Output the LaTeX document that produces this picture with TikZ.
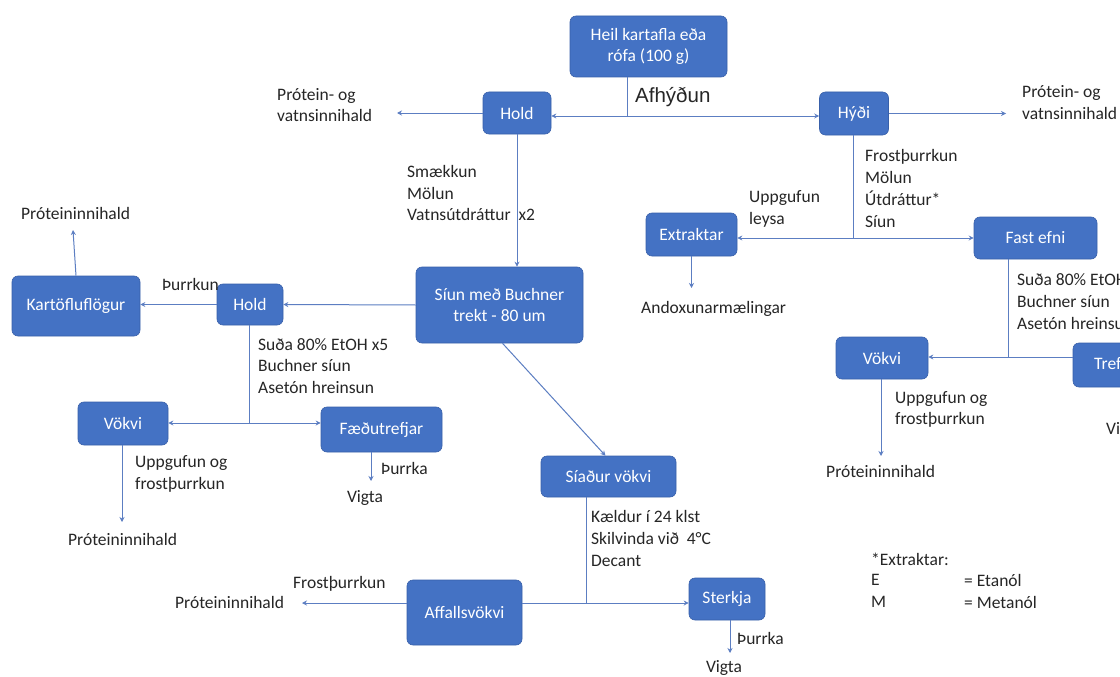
\documentclass[tikz,border=0pt]{standalone}
\usepackage{fontspec}
\setmainfont{Carlito}
\newfontfamily\afont{Liberation Sans}
\usetikzlibrary{arrows.meta}
\definecolor{boxblue}{RGB}{68,114,196}
\definecolor{boxline}{RGB}{56,96,170}
\definecolor{lineblue}{RGB}{92,126,194}
\definecolor{txt}{RGB}{38,38,38}
\begin{document}
\begin{tikzpicture}[x=1pt,y=-1pt,
 box/.style={draw=boxline, line width=0.6pt, fill=boxblue, rounded corners=6pt, text=white, font=\fontsize{17.5}{21.7}\selectfont, align=center, inner sep=0pt},
 lbl/.style={font=\fontsize{17.5}{21.7}\selectfont, text=txt, align=left, inner sep=0pt, anchor=west},
 conn/.style={draw=lineblue, line width=1pt},
 arr/.style={conn, -{Stealth[length=5pt,width=5pt]}}]
\useasboundingbox (0,0) rectangle (1120,677);
\clip (0,0) rectangle (1120,677);
\fill[white] (0,0) rectangle (1120,677);

% boxes
\node[box, minimum width=157pt, minimum height=61pt] (top) at (648.5,46.5) {Heil kartafla eða\\rófa (100 g)};
\node[box, minimum width=68pt, minimum height=42pt] (holdA) at (517,113) {Hold};
\node[box, minimum width=69pt, minimum height=43pt] (hydi) at (854,113.5) {Hýði};
\node[box, minimum width=91pt, minimum height=43pt] (extr) at (691.5,234.5) {Extraktar};
\node[box, minimum width=123pt, minimum height=42pt] (fast) at (1035.5,238) {Fast efni};
\node[box, minimum width=92pt, minimum height=42pt] (vokR) at (882,358) {Vökvi};
\node[box, minimum width=88pt, minimum height=44pt] (tref) at (1117,365) {Trefjar};
\node[box, minimum width=167pt, minimum height=76pt] (sium) at (499.5,305) {Síun með Buchner\\trekt - 80 um};
\node[box, minimum width=66pt, minimum height=41pt] (holdB) at (250,304.5) {Hold};
\node[box, minimum width=128pt, minimum height=60pt] (kart) at (76,306) {Kartöfluflögur};
\node[box, minimum width=90pt, minimum height=43pt] (vokL) at (123,423.5) {Vökvi};
\node[box, minimum width=121pt, minimum height=45pt] (faed) at (381.5,429.5) {Fæðutrefjar};
\node[box, minimum width=135pt, minimum height=41pt] (siad) at (608.5,476.5) {Síaður vökvi};
\node[box, minimum width=76pt, minimum height=42pt] (sterk) at (727,599) {Sterkja};
\node[box, minimum width=115pt, minimum height=65pt] (afall) at (464.5,612.5) {Affallsvökvi};

% labels
\node[lbl, font=\afont\fontsize{20.5}{24}\selectfont] (lafh) at (635,97) {Afhýðun};
\node[lbl] (lpv1) at (277,105) {Prótein- og\\vatnsinnihald};
\node[lbl] (lpv2) at (1022,102.5) {Prótein- og\\vatnsinnihald};
\node[lbl] (lsma) at (407,193) {Smækkun\\Mölun\\Vatnsútdráttur\ \ x2};
\node[lbl] (lfro) at (865,188.5) {Frostþurrkun\\Mölun\\Útdráttur*\\Síun};
\node[lbl] (lupp1) at (749,209) {Uppgufun\\leysa};
\node[lbl] (land) at (641,309) {Andoxunarmælingar};
\node[lbl] (lsuR) at (1017,301.5) {Suða 80\% EtOH x5\\Buchner síun\\Asetón hreinsun};
\node[lbl] (luppR) at (895,409.5) {Uppgufun og\\frostþurrkun};
\node[lbl] (lprR) at (826,471) {Próteininnihald};
\node[lbl] (lvigR) at (1106,430) {Vigta};
\node[lbl] (lprK) at (21,213) {Próteininnihald};
\node[lbl] (lthu) at (162,284) {Þurrkun};
\node[lbl] (lsuL) at (258,366) {Suða 80\% EtOH x5\\Buchner síun\\Asetón hreinsun};
\node[lbl] (luppL) at (135,474) {Uppgufun og\\frostþurrkun};
\node[lbl] (lprL) at (68,539) {Próteininnihald};
\node[lbl] (lthF) at (381,468) {Þurrka};
\node[lbl, anchor=center] (lvigF) at (365,498) {Vigta};
\node[lbl] (lkae) at (591,538.5) {Kældur í 24 klst\\Skilvinda við\ \ 4°C\\Decant};
\node[lbl] (lthS) at (737,638) {Þurrka};
\node[lbl, anchor=center] (lvigS) at (724,668) {Vigta};
\node[lbl] (lprA) at (175,602) {Próteininnihald};
\node[lbl] (lfrA) at (293,584) {Frostþurrkun};
\node[lbl] (lext) at (871,559) {*Extraktar:};
\node[lbl] (lE) at (871,580) {E};
\node[lbl] (lEt) at (964,580) {= Etanól};
\node[lbl] (lM) at (871,602) {M};
\node[lbl] (lMt) at (964,602) {= Metanól};

% connectors
\coordinate (j1) at (627,116);
\draw[conn] (top.south -| j1) -- (j1);
\draw[arr] (j1) -- (j1 -| holdA.east);
\draw[arr] (j1) -- (j1 -| hydi.west);
\coordinate (e1) at (397,113);
\draw[arr] (holdA.west) -- (e1);
\coordinate (e2) at (1006,113.5);
\draw[arr] (hydi.east) -- (e2);
\draw[arr] (holdA.south) -- (holdA.south |- sium.north);
\coordinate (j2) at (853,238);
\draw[conn] (hydi.south -| j2) -- (j2);
\draw[arr] (j2) -- (j2 -| extr.east);
\draw[arr] (j2) -- (j2 -| fast.west);
\coordinate (e3) at (691.5,288);
\draw[arr] (extr.south) -- (e3);
\coordinate (j3) at (1008,357);
\draw[conn] (fast.south -| j3) -- (j3);
\draw[conn] (j3 -| tref.west) -- (j3);
\draw[arr] (j3) -- (j3 -| vokR.east);
\coordinate (e4) at (881,456);
\draw[arr] (vokR.south -| e4) -- (e4);
\draw[arr] (sium.west) -- (holdB.east);
\draw[arr] (holdB.west) -- (holdB.west -| kart.east);
\coordinate (e5) at (73,230);
\draw[arr] (kart.north) -- (e5);
\coordinate (j4) at (249,423);
\draw[conn] (holdB.south -| j4) -- (j4);
\draw[arr] (j4) -- (j4 -| vokL.east);
\draw[arr] (j4) -- (j4 -| faed.west);
\coordinate (e6) at (122,522);
\draw[arr] (vokL.south -| e6) -- (e6);
\coordinate (e7) at (371,481);
\draw[arr] (faed.south -| e7) -- (e7);
\draw[arr] ([xshift=3pt]sium.south) -- ([xshift=-3pt]siad.north);
\coordinate (j5) at (586,603);
\draw[conn] (siad.south -| j5) -- (j5);
\draw[arr] (j5) -- (j5 -| sterk.west);
\draw[conn] (j5 -| afall.east) -- (j5);
\coordinate (e8) at (302,603);
\draw[arr] (j5 -| afall.west) -- (e8);
\coordinate (e9) at (730,653);
\draw[arr] (sterk.south -| e9) -- (e9);
\end{tikzpicture}
\end{document}
